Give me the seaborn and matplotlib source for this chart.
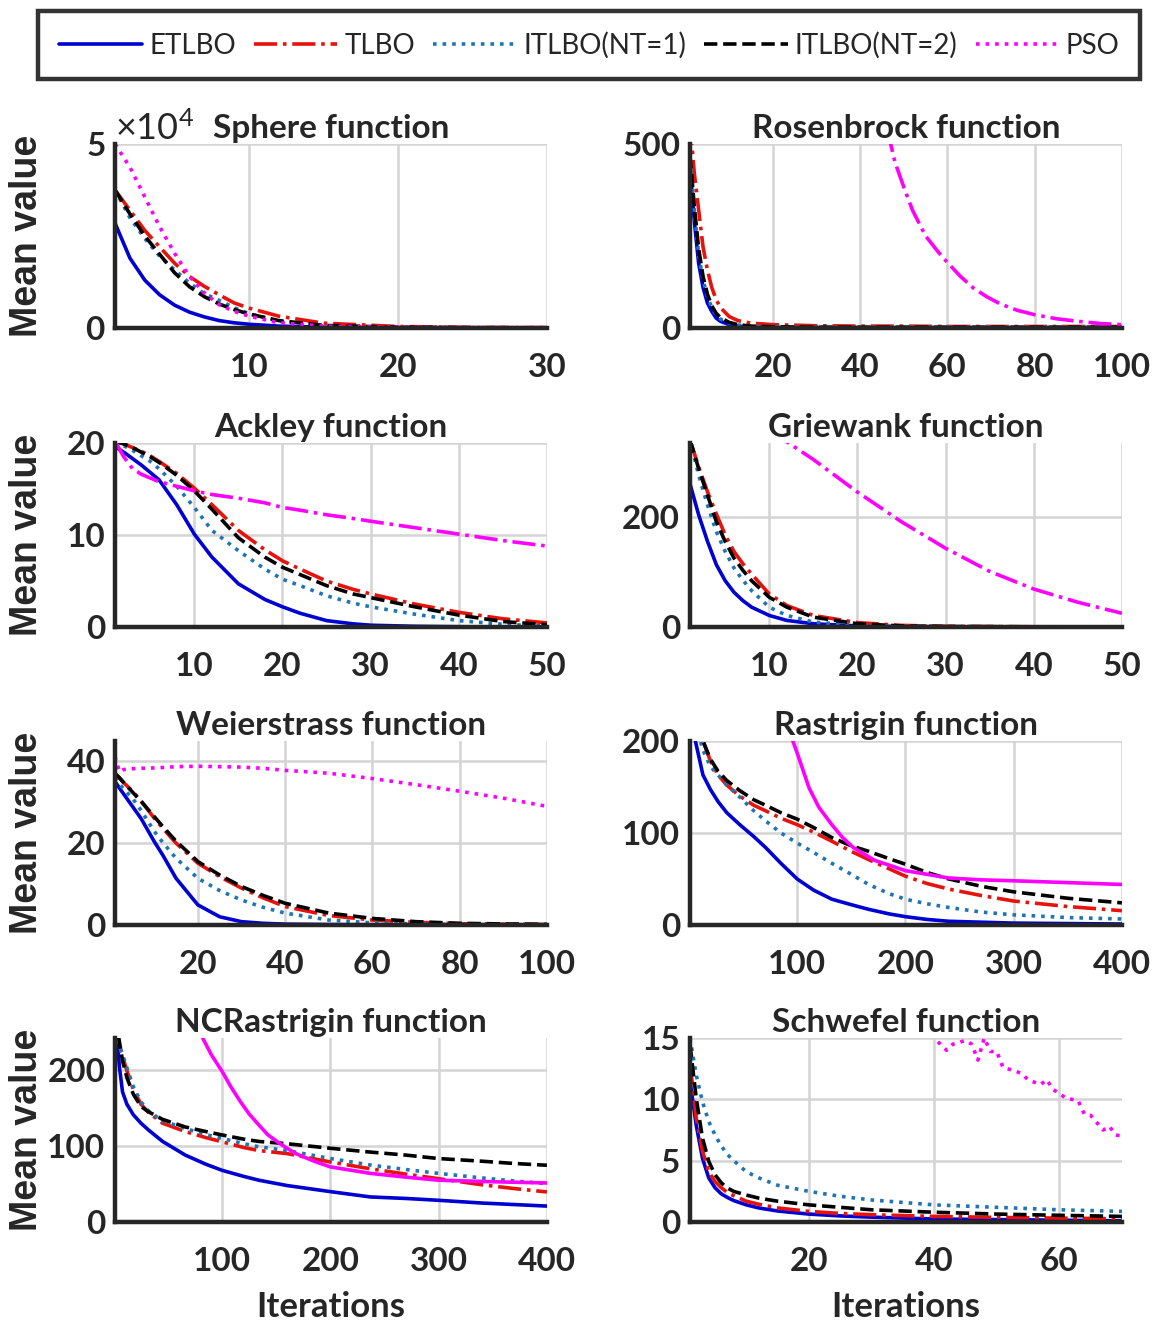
import numpy as np
import pandas as pd
import seaborn as sns
import matplotlib.pyplot as plt
from matplotlib.lines import Line2D
from matplotlib.ticker import ScalarFormatter
from matplotlib import font_manager

# ---- values ----
algos = ['ETLBO', 'TLBO', 'ITLBO(NT=1)', 'ITLBO(NT=2)', 'PSO']

# Sphere
sphere_it = [1, 2, 3, 4, 5, 6, 7, 8, 9, 10, 12, 15, 20, 25, 30]
sphere_etlbo = [28500, 19000, 13000, 9000, 6200, 4300, 3000, 2000, 1400, 1000, 500, 200, 50, 20, 10]
sphere_tlbo = [37500, 32000, 26500, 22000, 17600, 14000, 11300, 9000, 6800, 5400, 3200, 1300, 400, 150, 100]
sphere_itlbo1 = [37500, 30000, 24300, 19500, 15800, 12200, 9300, 7500, 5500, 3900, 1800, 600, 150, 50, 20]
sphere_itlbo2 = [37500, 31000, 25000, 20000, 15000, 11200, 8500, 6500, 5000, 3800, 2000, 700, 200, 80, 40]
sphere_pso_it = sphere_it
sphere_pso = [50000, 43700, 35600, 27500, 20300, 14000, 9500, 6300, 4500, 3200, 1400, 500, 200, 100, 100]

# Rosenbrock
rosen_it = [1, 2, 3, 4, 5, 6, 7, 8, 10, 12, 15, 20, 30, 40, 50, 60, 70, 80, 90, 100]
rosen_etlbo = [437, 290, 175, 110, 68, 45, 27, 18, 9, 5, 3, 1.5, 1, 1, 1, 1, 1, 1, 1, 1]
rosen_tlbo = [560, 420, 320, 220, 158, 110, 77, 55, 31, 20, 13, 9, 6, 5, 5, 4, 4, 4, 4, 4]
rosen_itlbo1 = [455, 320, 200, 130, 85, 55, 35, 24, 13, 8, 5, 3, 2, 2, 2, 2, 2, 2, 2, 2]
rosen_itlbo2 = [470, 330, 215, 140, 92, 60, 40, 28, 15, 9, 5, 3, 2, 2, 2, 2, 2, 2, 2, 2]
rosen_pso_it = [44, 47, 48, 50, 52, 55, 58, 60, 63, 66, 69, 72, 76, 80, 85, 90, 95, 100]
rosen_pso = [640, 500, 450, 383, 320, 250, 205, 178, 140, 108, 85, 66, 48, 36, 25, 18, 12, 9]

# Ackley
ackley_it = [1, 2, 3, 4, 5, 6, 8, 10, 12, 15, 18, 20, 22, 25, 28, 30, 35, 40, 45, 50]
ackley_etlbo = [19.6, 19.0, 18.3, 17.6, 16.8, 16.0, 13.3, 10.1, 7.6, 4.7, 3.0, 2.2, 1.5, 0.7, 0.35, 0.2, 0.08, 0.03, 0.01, 0.01]
ackley_tlbo = [20.2, 19.9, 19.5, 19.1, 18.6, 18.0, 16.7, 15.1, 13.3, 10.5, 8.4, 7.2, 6.3, 5.0, 4.1, 3.6, 2.5, 1.6, 0.9, 0.45]
ackley_itlbo1 = [20.1, 19.7, 19.2, 18.6, 18.0, 17.2, 15.3, 13.0, 10.5, 8.3, 6.3, 5.2, 4.5, 3.4, 2.6, 2.2, 1.4, 0.7, 0.3, 0.1]
ackley_itlbo2 = [20.2, 19.9, 19.5, 19.0, 18.5, 17.9, 16.5, 14.8, 12.8, 9.7, 7.6, 6.5, 5.7, 4.5, 3.6, 3.2, 2.2, 1.3, 0.6, 0.25]
ackley_pso_it = ackley_it
ackley_pso = [20.2, 18.5, 17.2, 16.6, 16.2, 15.8, 15.3, 14.8, 14.4, 14.0, 13.5, 13.0, 12.7, 12.2, 11.8, 11.5, 10.8, 10.1, 9.4, 8.8]

# Griewank
grie_it = [1, 2, 3, 4, 5, 6, 7, 8, 10, 12, 15, 20, 25, 30, 40, 50]
grie_etlbo = [260, 203, 155, 113, 84, 63, 48, 36, 21, 12, 6, 2, 1, 0.5, 0.2, 0.1]
grie_tlbo = [340, 290, 245, 205, 167, 137, 115, 96, 60, 39, 21, 8, 3, 1.5, 0.5, 0.3]
grie_itlbo1 = [340, 275, 221, 173, 137, 107, 85, 66, 36, 21, 9, 3, 1, 0.5, 0.2, 0.1]
grie_itlbo2 = [340, 287, 239, 191, 155, 125, 103, 84, 54, 36, 18, 6, 2, 1, 0.4, 0.2]
grie_pso_it = [10, 12, 15, 20, 25, 30, 35, 40, 45, 50]
grie_pso = [355, 336, 304, 245, 191, 143, 101, 69, 45, 25]

# Weierstrass
weier_it = [1, 2, 3, 5, 7, 10, 12, 15, 20, 25, 30, 35, 40, 50, 60, 70, 80, 90, 100]
weier_etlbo = [35.1, 33.5, 32, 29, 26, 20.4, 17, 11.4, 4.9, 2, 0.8, 0.4, 0.2, 0.1, 0.05, 0.05, 0.05, 0.05, 0.05]
weier_tlbo = [37.1, 36, 34.8, 32.7, 30.3, 26.1, 23.6, 20, 15.1, 11.8, 9, 6.6, 4.5, 2.3, 1.2, 0.65, 0.3, 0.2, 0.1]
weier_itlbo1 = [36, 34.5, 33.2, 31, 28, 22.9, 20.1, 16.3, 11.4, 8.4, 6.1, 4.3, 2.9, 1.2, 0.5, 0.25, 0.1, 0.05, 0.05]
weier_itlbo2 = [37, 36, 34.8, 32.5, 30.2, 26.5, 24, 20.5, 15.5, 12.2, 9.4, 7.2, 5.3, 2.9, 1.6, 0.8, 0.4, 0.25, 0.15]
weier_pso_it = weier_it
weier_pso = [41.2, 37.5, 38, 38.2, 38.3, 38.4, 38.5, 38.7, 38.8, 38.7, 38.6, 38.3, 37.8, 37.1, 35.8, 34.3, 32.7, 31, 29]

# Rastrigin
rast_it = [1, 6, 13, 20, 27, 35, 47, 60, 71, 85, 100, 115, 132, 150, 166, 185, 200, 220, 240, 270, 300, 350, 400]
rast_etlbo = [260, 200, 163, 147, 134, 122, 109, 96, 84, 67, 50, 38, 28, 22, 17, 12, 9, 6, 4, 3, 2, 1.5, 1]
rast_tlbo = [280, 240, 200, 178, 163, 152, 140, 130, 124, 116, 109, 101, 91, 80, 71, 61, 53, 45, 39, 32, 26, 20, 15.5]
rast_itlbo1 = [260, 220, 190, 172, 163, 152, 139, 124, 113, 100, 89, 79, 67, 55, 44, 34, 28, 23, 19, 14, 11, 8, 6.5]
rast_itlbo2 = [280, 240, 200, 180, 167, 157, 146, 136, 130, 122, 115, 106, 95, 86, 80, 72, 66, 57, 50, 42, 36, 29, 24]
rast_pso_it = [80, 90, 96, 100, 111, 120, 132, 142, 152, 162, 172, 185, 200, 220, 240, 270, 300, 350, 400]
rast_pso = [300, 235, 200, 187, 149, 128, 109, 95, 84, 77, 70, 65, 59, 55, 51, 49, 48, 46, 44]

# NCRastrigin
ncr_it = [1, 3, 5, 8, 12, 18, 25, 32, 45, 66, 85, 100, 120, 134, 160, 200, 237, 270, 300, 340, 370, 400]
ncr_etlbo = [260, 242, 205, 171, 155, 141, 130, 121, 106, 88, 76, 68, 60, 55, 48, 40, 33, 31, 28.6, 25, 23, 21]
ncr_tlbo = [265, 248, 232, 218, 199, 174, 155, 144, 130, 119, 111, 105.5, 98, 94, 90, 79, 70, 63, 57, 49, 44, 39.6]
ncr_itlbo1 = [265, 248, 232, 220, 203, 178, 158, 146, 133, 123, 115, 110, 103, 99, 94, 83.5, 75, 69, 64, 58, 54, 50.5]
ncr_itlbo2 = [270, 255, 238, 212, 190, 168, 152, 145, 135, 125, 119, 114.5, 109, 106, 103, 97, 92, 88, 83.5, 80, 77, 74.7]
ncr_pso_it = [75, 82, 90, 100, 108, 117, 125, 134, 142, 151, 160, 168, 185, 200, 237, 270, 300, 350, 400]
ncr_pso = [270, 242, 220, 198, 178, 158, 142, 127.5, 115, 105.5, 97, 90, 80, 72.5, 64, 59, 55, 53, 51.4]

# Schwefel
schw_it = [1, 2, 3, 4, 5, 6, 7, 8, 10, 12, 15, 20, 25, 30, 40, 50, 60, 70]
schw_etlbo = [11.5, 7.9, 5.2, 3.6, 2.8, 2.3, 2.0, 1.75, 1.4, 1.15, 0.9, 0.65, 0.5, 0.4, 0.25, 0.2, 0.15, 0.1]
schw_tlbo = [13, 8.5, 5.8, 4.1, 3.3, 2.8, 2.4, 2.15, 1.7, 1.45, 1.15, 0.87, 0.7, 0.6, 0.46, 0.38, 0.32, 0.27]
schw_itlbo1 = [15, 12, 9.8, 8.2, 7.1, 6.2, 5.5, 5.0, 4.1, 3.6, 3.0, 2.5, 2.1, 1.8, 1.4, 1.2, 1.0, 0.87]
schw_itlbo2 = [14.5, 10.1, 6.85, 4.95, 3.86, 3.2, 2.77, 2.5, 2.2, 1.95, 1.7, 1.4, 1.2, 1.0, 0.8, 0.65, 0.55, 0.46]
schw_pso_it = [39, 40, 42, 43, 45, 46, 47, 48, 49, 50, 51, 53, 54, 55, 57, 58, 59, 60, 61, 63, 64, 65, 67, 68, 69, 70]
schw_pso = [16, 15, 14, 14.5, 14.8, 14.5, 13.2, 15, 13.9, 13.9, 12.6, 12.3, 12.1, 11.6, 11.2, 11.6, 10.8, 10.5, 10.1, 9.9, 8.8, 8.7, 7.5, 7.8, 7.1, 7.0]

panels = [
    dict(title='Sphere function', it=sphere_it, ys=[sphere_etlbo, sphere_tlbo, sphere_itlbo1, sphere_itlbo2],
         pit=sphere_pso_it, pso=sphere_pso, pls=':', xlim=(1, 30), ylim=(0, 50000), xt=[10, 20, 30], yt=[0, 50000]),
    dict(title='Rosenbrock function', it=rosen_it, ys=[rosen_etlbo, rosen_tlbo, rosen_itlbo1, rosen_itlbo2],
         pit=rosen_pso_it, pso=rosen_pso, pls='-.', xlim=(1, 100), ylim=(0, 500), xt=[20, 40, 60, 80, 100], yt=[0, 500]),
    dict(title='Ackley function', it=ackley_it, ys=[ackley_etlbo, ackley_tlbo, ackley_itlbo1, ackley_itlbo2],
         pit=ackley_pso_it, pso=ackley_pso, pls='-.', xlim=(1, 50), ylim=(0, 20), xt=[10, 20, 30, 40, 50], yt=[0, 10, 20]),
    dict(title='Griewank function', it=grie_it, ys=[grie_etlbo, grie_tlbo, grie_itlbo1, grie_itlbo2],
         pit=grie_pso_it, pso=grie_pso, pls='-.', xlim=(1, 50), ylim=(0, 334), xt=[10, 20, 30, 40, 50], yt=[0, 200]),
    dict(title='Weierstrass function', it=weier_it, ys=[weier_etlbo, weier_tlbo, weier_itlbo1, weier_itlbo2],
         pit=weier_pso_it, pso=weier_pso, pls=':', xlim=(1, 100), ylim=(0, 45), xt=[20, 40, 60, 80, 100], yt=[0, 20, 40]),
    dict(title='Rastrigin function', it=rast_it, ys=[rast_etlbo, rast_tlbo, rast_itlbo1, rast_itlbo2],
         pit=rast_pso_it, pso=rast_pso, pls='-', xlim=(1, 400), ylim=(0, 200), xt=[100, 200, 300, 400], yt=[0, 100, 200]),
    dict(title='NCRastrigin function', it=ncr_it, ys=[ncr_etlbo, ncr_tlbo, ncr_itlbo1, ncr_itlbo2],
         pit=ncr_pso_it, pso=ncr_pso, pls='-', xlim=(1, 400), ylim=(0, 242), xt=[100, 200, 300, 400], yt=[0, 100, 200]),
    dict(title='Schwefel function', it=schw_it, ys=[schw_etlbo, schw_tlbo, schw_itlbo1, schw_itlbo2],
         pit=schw_pso_it, pso=schw_pso, pls=':', xlim=(1, 70), ylim=(0, 15), xt=[20, 40, 60], yt=[0, 5, 10, 15]),
]

colors = ['#0000d2', '#e8120c', '#1f74b6', '#000000', '#ff00ff']
styles = ['-', '-.', ':', '--', ':']

# pick a narrow humanist face if one is there
avail = {f.name for f in font_manager.fontManager.ttflist}
main_font = 'DejaVu Sans'
for cand in ['Liberation Sans Narrow', 'Lato', 'Open Sans', 'Roboto']:
    if cand in avail:
        main_font = cand
        break

sns.set_style("white")
plt.rcParams['font.family'] = [main_font, 'DejaVu Sans']
plt.rcParams['mathtext.fontset'] = 'custom'
plt.rcParams['mathtext.rm'] = main_font
plt.rcParams['mathtext.it'] = main_font

fig = plt.figure(figsize=(11.59, 13.24), dpi=100)

lefts = [0.0992, 0.5953]
bottoms = [0.7523, 0.5264, 0.3014, 0.0770]
w, h = 0.3727, 0.139
ink = '#262626'
lw = 2.6

for i, p in enumerate(panels):
    r, c = divmod(i, 2)
    ax = fig.add_axes([lefts[c], bottoms[r], w, h])
    for k in range(4):
        sns.lineplot(x=p['it'], y=p['ys'][k], ax=ax, color=colors[k], linestyle=styles[k],
                     linewidth=lw, legend=False, sort=True)
    sns.lineplot(x=p['pit'], y=p['pso'], ax=ax, color=colors[4], linestyle=p['pls'],
                 linewidth=lw, legend=False, sort=True)
    ax.set_xlim(*p['xlim'])
    ax.set_ylim(*p['ylim'])
    ax.set_xticks(p['xt'])
    ax.set_yticks(p['yt'])
    ax.grid(True, color='#d4d4d4', linewidth=1.8)
    ax.set_axisbelow(True)
    for s in ['top', 'right']:
        ax.spines[s].set_visible(False)
    for s in ['left', 'bottom']:
        ax.spines[s].set_color(ink)
        ax.spines[s].set_linewidth(3.2)
    ax.tick_params(direction='in', length=5, width=2, color=ink, labelsize=24, labelcolor=ink)
    ax.tick_params(axis='x', pad=18)
    ax.tick_params(axis='y', pad=7)
    for lab in ax.get_xticklabels() + ax.get_yticklabels():
        lab.set_fontweight('bold')
    ax.set_title(p['title'], fontsize=24, fontweight='bold', pad=4, y=1.0)
    ax.set_xlabel('')
    ax.set_ylabel('')
    if c == 0:
        ax.set_ylabel('Mean value', fontsize=27, fontweight='bold', color=ink,
                      family=['Liberation Sans', 'DejaVu Sans'])
        ax.yaxis.set_label_coords(-0.161, 0.5)
    if r == 3:
        ax.set_xlabel('Iterations', fontsize=25, fontweight='bold', color=ink, labelpad=11)
    if i == 0:
        fmt = ScalarFormatter(useMathText=True)
        fmt.set_powerlimits((0, 0))
        ax.yaxis.set_major_formatter(fmt)
        ax.yaxis.get_offset_text().set_fontsize(26)
        ax.yaxis.get_offset_text().set_color(ink)

handles = [Line2D([0], [0], color=colors[k], linestyle=styles[k], linewidth=lw) for k in range(5)]
leg = fig.legend(handles, algos, loc='lower left', bbox_to_anchor=(0.033, 0.940, 0.951, 0.056),
                 mode='expand', ncol=5, frameon=True, fancybox=False, fontsize=20,
                 handlelength=3.0, handletextpad=0.25, borderpad=0.75, borderaxespad=0)
leg.get_frame().set_edgecolor('black')
leg.get_frame().set_linewidth(3.2)

fig.savefig('out.png', dpi=100)
